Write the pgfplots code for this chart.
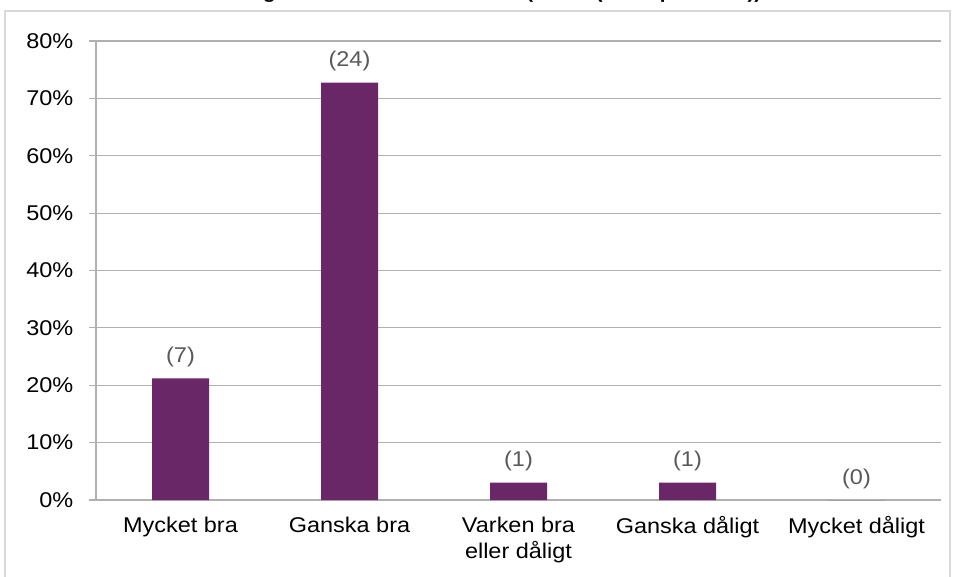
\documentclass[border=0pt]{standalone}
\usepackage{pgfplots}
\pgfplotsset{compat=1.18}
\usepackage{fontspec}
\setmainfont[FakeStretch=1.1]{Liberation Sans}
\definecolor{barpurple}{HTML}{6A2768}
\definecolor{gridgray}{HTML}{B0B0B0}
\definecolor{labgray}{HTML}{595959}
\begin{document}
\begin{tikzpicture}[x=0.75pt,y=0.75pt]
\useasboundingbox (-96,-76) rectangle (860,500);
\clip (-96,-76) rectangle (860,500);
\draw[color=gray!30, line width=1.5pt] (-91,489) rectangle (854,-120);
\node[anchor=base, font=\bfseries\fontsize{14}{16}\selectfont] at (366,501.5) {Bedömning av insatsen i sin helhet? (Andel (Antal personer))};
\begin{axis}[
  at={(0,0)}, anchor=south west,
  scale only axis,
  width=633.75pt, height=344.25pt,
  xmin=-0.5, xmax=4.5,
  ymin=0, ymax=80,
  ytick={0,10,...,80},
  yticklabel={\pgfmathprintnumber{\tick}\%},
  /pgf/number format/assume math mode=true,
  ymajorgrids,
  grid style={gridgray, line width=0.8pt},
  axis line style={gridgray, line width=0.8pt},
  axis x line*=bottom,
  axis y line*=left,
  xtick=data,
  xticklabels={Mycket bra, Ganska bra, {Varken bra\\eller dåligt}, Ganska dåligt, Mycket dåligt},
  xtick style={draw=none},
  ytick style={gridgray, line width=0.8pt},
  tick align=outside,
  major tick length=5pt,
  ticklabel style={font=\fontsize{16}{20}\selectfont, text=black},
  xticklabel style={align=center, yshift=-4pt},
  yticklabel style={xshift=-8.5pt},
  enlarge x limits=false,
  clip=false,
]
\addplot[ybar, bar width=42.75pt, fill=barpurple, draw=none,
  point meta=explicit symbolic,
  nodes near coords,
  nodes near coords style={font=\fontsize{16}{18}\selectfont, text=labgray, yshift=5pt},
] coordinates {
  (0,21.21)[(7)]
  (1,72.73)[(24)]
  (2,3.03)[(1)]
  (3,3.03)[(1)]
  (4,0)[(0)]
};
\end{axis}
\end{tikzpicture}
\end{document}
